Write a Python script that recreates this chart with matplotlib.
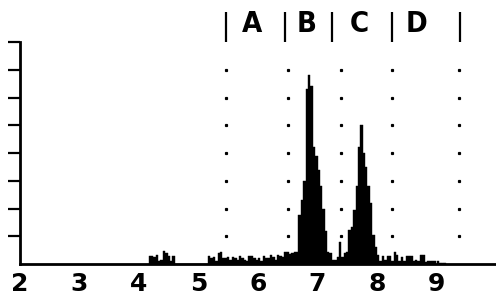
import numpy as np
import matplotlib
matplotlib.use("Agg")
import matplotlib.pyplot as plt
from matplotlib import font_manager

# ---- data ----
bin_start = 4.16
bin_width = 0.04
heights = [
    # 4.16 - 4.60
    0.30, 0.30, 0.25, 0.32, 0.10, 0.15, 0.48, 0.40, 0.30, 0.12, 0.30,
    # 4.60 - 5.16
    0, 0, 0, 0, 0, 0, 0, 0, 0, 0, 0, 0, 0, 0,
    # 5.16 - 6.68
    0.30, 0.20, 0.25, 0.10, 0.38, 0.45, 0.20, 0.20, 0.25, 0.15,
    0.25, 0.20, 0.15, 0.28, 0.20, 0.15, 0.12, 0.30, 0.30, 0.20,
    0.15, 0.20, 0.12, 0.30, 0.20, 0.20, 0.33, 0.25, 0.15, 0.33,
    0.30, 0.25, 0.42, 0.45, 0.35, 0.40, 0.45, 0.45,
    # 6.68 - 7.20 (peak B)
    1.77, 2.30, 3.00, 6.30, 6.80, 6.40, 4.20, 3.90, 3.40, 2.80, 2.00, 1.20, 0.44,
    # 7.20 - 7.52
    0.40, 0.15, 0.15, 0.25, 0.80, 0.25, 0.40, 0.44,
    # 7.52 - 8.00 (peak C)
    1.22, 1.34, 1.95, 2.80, 4.20, 5.00, 4.00, 3.50, 2.80, 2.20, 1.05, 0.62,
    # 8.00 - 9.16
    0.32, 0.12, 0.30, 0.15, 0.30, 0.30, 0.10, 0.45, 0.33, 0.10,
    0.25, 0.10, 0.30, 0.30, 0.30, 0.10, 0.15, 0.10, 0.33, 0.33,
    0.08, 0.10, 0.10, 0.10, 0.10, 0.10, 0.05, 0.05, 0.05,
]
x_ticks = [2, 3, 4, 5, 6, 7, 8, 9]
y_ticks = [1, 2, 3, 4, 5, 6, 7, 8]
dot_levels = [1, 2, 3, 4, 5, 6, 7]
dotted_x = [5.46, 6.50, 7.40, 8.26, 9.38]
region_bounds = [5.46, 6.46, 7.25, 8.26, 9.40]
region_labels = ["A", "B", "C", "D"]
region_label_x = [5.90, 6.82, 7.71, 8.66]

# ---- pick a narrow bold font for the region letters if one is installed ----
def narrow_bold_props(size):
    best = None
    for f in font_manager.fontManager.ttflist:
        nm = (f.name + " " + f.fname).lower()
        is_narrow = ("narrow" in nm or "condensed" in nm or
                     str(f.stretch).lower() in ("condensed", "semi-condensed",
                                                "extra-condensed"))
        is_bold = (str(f.weight).lower() in ("bold", "700", "heavy", "black")
                   or (isinstance(f.weight, int) and f.weight >= 700)
                   or "bold" in nm)
        if is_narrow and is_bold and "italic" not in nm and "oblique" not in nm:
            best = f
            if "liberation" in nm or "dejavu" in nm:
                break
    if best is not None:
        return font_manager.FontProperties(fname=best.fname, size=size)
    return font_manager.FontProperties(family="DejaVu Sans", weight="bold",
                                       stretch="condensed", size=size - 2)

# ---- figure ----
fig = plt.figure(figsize=(4.96, 2.97), dpi=100)
ax = fig.add_axes([20 / 496, 33 / 297, 476 / 496, 222 / 297])

edges = bin_start + bin_width * np.arange(len(heights))
ax.bar(edges, heights, width=bin_width, align="edge", color="black",
       edgecolor="black", linewidth=0.3)

ax.set_xlim(2, 10)
ax.set_ylim(0, 8)

# dotted reference lines
for xv in dotted_x:
    ax.plot([xv] * len(dot_levels), dot_levels, linestyle="none", marker="s",
            markersize=1.3, color="black")

# region separators and labels above the plot
trans = matplotlib.transforms.blended_transform_factory(ax.transData, ax.transAxes)
for xv in region_bounds:
    ax.plot([xv, xv], [1.0, 1.135], color="black", linewidth=1.6,
            transform=trans, clip_on=False, solid_capstyle="butt")

lab_props = narrow_bold_props(21)
for xv, lab in zip(region_label_x, region_labels):
    ax.text(xv, 1.081, lab, transform=trans, ha="center", va="center",
            fontproperties=lab_props, clip_on=False)

# axes styling
for s in ["top", "right"]:
    ax.spines[s].set_visible(False)
ax.spines["left"].set_linewidth(2.0)
ax.spines["bottom"].set_linewidth(2.0)
ax.set_yticks(y_ticks)
ax.set_yticklabels([])
ax.tick_params(axis="y", length=9, width=1.6, direction="out")
ax.set_xticks(x_ticks)
ax.set_xticklabels([str(v) for v in x_ticks], fontsize=18, fontweight="bold")
ax.tick_params(axis="x", length=0, pad=6)

fig.savefig("out.png", dpi=100)
